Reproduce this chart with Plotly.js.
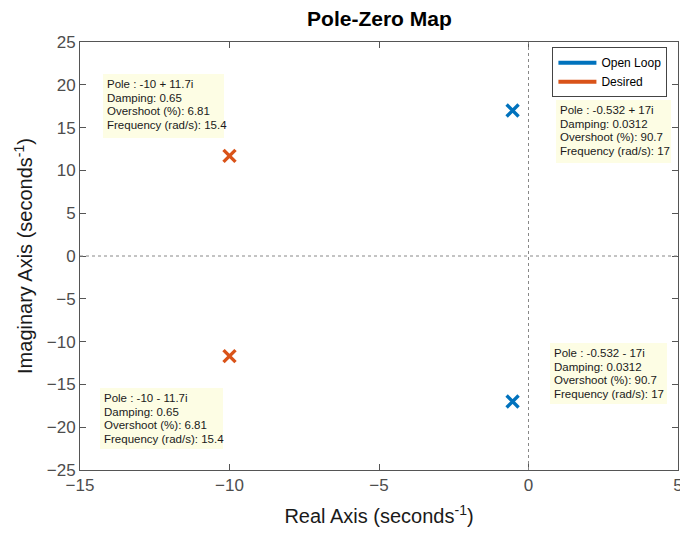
<!DOCTYPE html>
<html>
<head>
<meta charset="utf-8">
<script src="https://cdn.plot.ly/plotly-3.0.1.min.js"></script>
<style>html,body{margin:0;padding:0;background:#fff;}#chart{width:680px;height:534px;}</style>
</head>
<body>
<div id="chart"></div>
<script>
// Data
const seriesNames = ["Open Loop", "Desired"];
const openLoopReal = [-0.532, -0.532];
const openLoopImag = [17, -17];
const desiredReal = [-10, -10];
const desiredImag = [11.7, -11.7];
const openLoopDamping = 0.0312, openLoopOvershoot = 90.7, openLoopFreq = 17;
const desiredDamping = 0.65, desiredOvershoot = 6.81, desiredFreq = 15.4;
const xTicks = [-15, -10, -5, 0, 5];
const yTicks = [-25, -20, -15, -10, -5, 0, 5, 10, 15, 20, 25];

const blue = "#0072BD", orange = "#D95319";
const font = "Liberation Sans, Arial, Helvetica, sans-serif";

function mk(x, y, color) {
  return {x: x, y: y, type: "scatter", mode: "markers", showlegend: false, hoverinfo: "skip",
    marker: {symbol: "x-thin", size: 12, color: color, line: {color: color, width: 3.4}}};
}
const traces = [
  mk(openLoopReal, openLoopImag, blue),
  mk(desiredReal, desiredImag, orange),
  {x: [null], y: [null], type: "scatter", mode: "lines", name: seriesNames[0], line: {color: blue, width: 4}},
  {x: [null], y: [null], type: "scatter", mode: "lines", name: seriesNames[1], line: {color: orange, width: 4}}
];

function fmtPole(re, im) {
  return "Pole : " + re + (im >= 0 ? " + " + im : " - " + Math.abs(im)) + "i";
}
const annotations = [];
const shapes = [
  {type: "line", xref: "x", yref: "paper", x0: 0, x1: 0, y0: 0, y1: 1, line: {color: "#888", width: 1, dash: "dot"}},
  {type: "line", xref: "paper", yref: "y", x0: 0, x1: 1, y0: 0, y1: 0, line: {color: "#888", width: 1, dash: "dot"}}
];
// datatip: anchored at the box's top-left corner (axis units), box size in pixels
function tip(re, im, d, o, f, ax, ay, w, h) {
  shapes.push({type: "rect", xref: "x", yref: "y", xsizemode: "pixel", ysizemode: "pixel",
    xanchor: ax, yanchor: ay, x0: 0, x1: w, y0: 0, y1: -h, fillcolor: "#fdfde4", line: {width: 0}, layer: "below"});
  const lines = [fmtPole(re, im), "Damping: " + d, "Overshoot (%): " + o, "Frequency (rad/s): " + f];
  lines.forEach((t, i) => {
    annotations.push({x: ax, y: ay, xref: "x", yref: "y", xanchor: "left", yanchor: "middle", showarrow: false,
      xshift: 2, yshift: -(10 + 13.7 * i), text: t, font: {family: font, size: 11.5, color: "#1a1a1a"}});
  });
}
tip(desiredReal[0], desiredImag[0], desiredDamping, desiredOvershoot, desiredFreq, -14.23, 21.26, 121, 64);
tip(openLoopReal[0], openLoopImag[0], openLoopDamping, openLoopOvershoot, openLoopFreq, 0.92, 18.22, 115, 63);
tip(openLoopReal[1], openLoopImag[1], openLoopDamping, openLoopOvershoot, openLoopFreq, 0.72, -10.16, 117, 61);
tip(desiredReal[1], desiredImag[1], desiredDamping, desiredOvershoot, desiredFreq, -14.33, -15.42, 123, 61);

const axisCommon = {
  showgrid: false, zeroline: false, showline: true, linecolor: "#555", linewidth: 1,
  mirror: "ticks", ticks: "inside", ticklen: 6, tickcolor: "#555", ticklabeloverflow: "allow",
  tickfont: {family: font, size: 17, color: "#4d4d4d"}
};

const layout = {
  width: 680, height: 534,
  margin: {l: 80, r: 2, t: 42, b: 64},
  paper_bgcolor: "#fff", plot_bgcolor: "#fff",
  title: {text: "<b>Pole-Zero Map</b>", font: {family: font, size: 21, color: "#000"}, x: 0.558, xanchor: "center", y: 0.966, yanchor: "middle"},
  xaxis: Object.assign({}, axisCommon, {range: [-15, 5], tickvals: xTicks,
    title: {text: "Real Axis (seconds<sup>-1</sup>)", font: {family: font, size: 20, color: "#1a1a1a"}, standoff: 14}}),
  yaxis: Object.assign({}, axisCommon, {range: [-25, 25], tickvals: yTicks,
    title: {text: "Imaginary Axis (seconds<sup>-1</sup>)", font: {family: font, size: 20, color: "#1a1a1a"}, standoff: 8}}),
  shapes: shapes,
  legend: {x: 0.79, y: 0.988, xanchor: "left", yanchor: "top", bgcolor: "#fff", bordercolor: "#444", borderwidth: 1,
    font: {family: font, size: 12, color: "#000"}, tracegroupgap: 0, itemwidth: 38},
  annotations: annotations
};

Plotly.newPlot("chart", traces, layout, {displayModeBar: false, staticPlot: true});
</script>
</body>
</html>
